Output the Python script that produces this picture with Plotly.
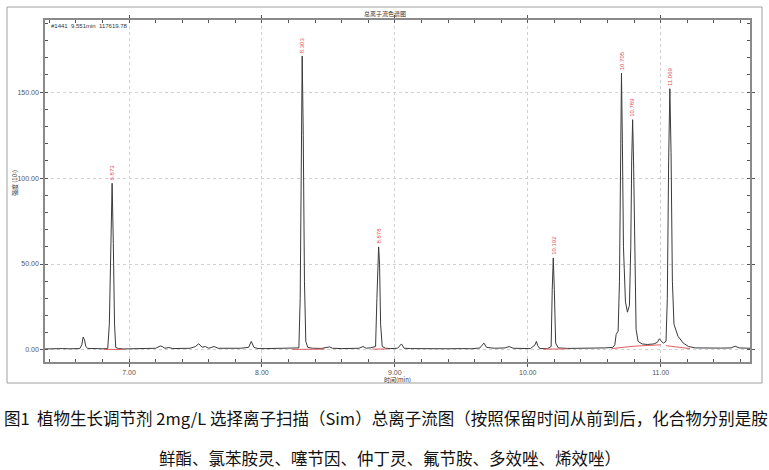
import plotly.graph_objects as go

# retention time (min) and intensity
rt = [
    6.368, 6.40, 6.45, 6.50, 6.55, 6.60, 6.63, 6.645, 6.655, 6.665, 6.675, 6.69,
    6.72, 6.76, 6.80, 6.84, 6.852, 6.862, 6.873, 6.882, 6.891, 6.90, 6.92, 6.96,
    7.00, 7.05, 7.10, 7.15, 7.20, 7.235, 7.25, 7.27, 7.30, 7.33, 7.40, 7.46,
    7.50, 7.525, 7.55, 7.575, 7.60, 7.64, 7.67, 7.72, 7.78, 7.84, 7.90, 7.92,
    7.94, 7.97, 8.03, 8.10, 8.17, 8.24, 8.278, 8.288, 8.296, 8.303, 8.311, 8.32,
    8.33, 8.345, 8.38, 8.45, 8.51, 8.53, 8.60, 8.67, 8.73, 8.76, 8.785, 8.82,
    8.855, 8.865, 8.872, 8.878, 8.885, 8.893, 8.905, 8.93, 8.97, 9.02, 9.05, 9.07,
    9.12, 9.20, 9.30, 9.40, 9.50, 9.58, 9.64, 9.67, 9.69, 9.75, 9.83, 9.86,
    9.89, 9.95, 10.02, 10.055, 10.065, 10.075, 10.09, 10.15, 10.176, 10.184, 10.192, 10.20,
    10.21, 10.23, 10.30, 10.40, 10.50, 10.58, 10.64, 10.655, 10.665, 10.68, 10.69, 10.698,
    10.705, 10.712, 10.72, 10.735, 10.75, 10.765, 10.775, 10.782, 10.789, 10.796, 10.805, 10.815,
    10.83, 10.86, 10.90, 10.95, 10.975, 10.99, 11.00, 11.02, 11.04, 11.05, 11.06, 11.069,
    11.078, 11.088, 11.10, 11.13, 11.17, 11.21, 11.26, 11.35, 11.45, 11.53, 11.56, 11.59,
    11.63, 11.672,
]
signal = [
    0.6, 0.7, 0.6, 0.8, 0.7, 0.6, 0.8, 3.0, 7.5, 6.0, 2.0, 0.9,
    0.7, 0.8, 0.7, 0.8, 15, 60, 97, 62, 15, 1.5, 0.8, 0.6,
    0.7, 0.6, 0.8, 0.7, 1.0, 2.3, 2.0, 1.0, 1.4, 0.8, 0.9, 1.0,
    2.0, 3.6, 1.6, 2.0, 1.0, 2.0, 1.0, 0.9, 0.8, 1.0, 1.5, 5.0,
    1.5, 0.8, 0.8, 0.9, 0.8, 1.0, 1.2, 30, 120, 171, 125, 40,
    5.0, 1.5, 1.0, 0.9, 1.8, 1.0, 0.8, 0.8, 1.0, 2.0, 1.0, 1.3,
    2.0, 30, 55, 60, 50, 15, 2.0, 1.0, 0.8, 1.0, 3.5, 1.0,
    0.8, 0.7, 0.8, 0.7, 0.8, 0.7, 1.2, 4.0, 1.5, 1.0, 1.2, 2.0,
    1.0, 0.8, 0.8, 3.0, 5.0, 2.5, 0.8, 0.8, 2.0, 35, 53.5, 35,
    4.0, 1.2, 0.9, 1.0, 1.0, 1.2, 1.5, 3.0, 9.0, 11, 40, 120,
    161, 120, 60, 28, 22, 26, 60, 110, 134, 110, 50, 12,
    5.0, 3.5, 3.2, 3.5, 4.5, 6.5, 5.5, 4.0, 5.0, 30, 110, 152,
    115, 40, 15, 8.0, 4.0, 2.0, 1.2, 1.0, 1.1, 1.2, 2.2, 1.2,
    1.0, 1.0,
]

# integration baselines (red), segments split by None
base_rt = [6.81, 6.96, None, 8.23, 8.47, None, 8.83, 8.94, None,
           10.12, 10.29, None, 10.63, 10.73, 10.80, 11.00, None, 11.04, 11.22]
base_sig = [0.3, 0.3, None, 0.3, 0.5, None, 0.5, 0.6, None,
            0.5, 0.6, None, 0.8, 1.5, 2.2, 3.0, None, 2.5, 0.8]

# labelled peaks
peak_rt = [6.873, 8.303, 8.878, 10.192, 10.705, 10.789, 11.069]
peak_top = [97, 171, 60, 53.5, 161, 134, 152]
peak_label = ["6.873", "8.303", "8.878", "10.192", "10.705", "10.789", "11.069"]

x_range = [6.368, 11.672]
y_range = [-7, 192]
x_ticks = [7, 8, 9, 10, 11]
y_ticks = [0, 50, 100, 150]

# plot area in pixels: left 45, right 750, top 20, bottom 362
L, R, T, B = 45, 750, 20, 362
W, H = R - L, B - T


def px(x):
    return (x - L) / W


def py(y):
    return (B - y) / H


fig = go.Figure()
fig.add_trace(go.Scatter(x=rt, y=signal, mode="lines",
                         line=dict(color="#3a3a3a", width=1), hoverinfo="skip"))
fig.add_trace(go.Scatter(x=base_rt, y=base_sig, mode="lines",
                         line=dict(color="#e06060", width=1), hoverinfo="skip"))

for x, y, t in zip(peak_rt, peak_top, peak_label):
    fig.add_annotation(x=x, y=y, text=t, showarrow=False, textangle=-90,
                       xanchor="center", yanchor="bottom", yshift=1,
                       font=dict(size=6, color="#e05050", family="Liberation Sans"))

axis_common = dict(
    showline=True, linecolor="#8a8a8a", linewidth=1.5, mirror="allticks",
    showgrid=True, gridcolor="#d0d0d0", griddash="dot", gridwidth=1,
    zeroline=False, tickcolor="#555", ticklen=3, ticks="outside",
    tickfont=dict(size=7, color="#555555", family="Liberation Sans"),
    tickformat=".2f", automargin=False,
)

fig.update_layout(
    width=769, height=470,
    paper_bgcolor="white", plot_bgcolor="white",
    showlegend=False,
    margin=dict(l=L, r=769 - R, t=T, b=470 - B, autoexpand=False),
    xaxis=dict(range=x_range, tickvals=x_ticks,
               minor=dict(dtick=0.2, ticks="inside", ticklen=3, tickcolor="#555"),
               **axis_common),
    yaxis=dict(range=y_range, tickvals=y_ticks,
               minor=dict(dtick=10, ticks="inside", ticklen=3, tickcolor="#555"),
               **axis_common),
    font=dict(family="Noto Sans CJK SC"),
)

# outer frame around chart
fig.add_shape(type="rect", xref="paper", yref="paper",
              x0=px(7), x1=px(762), y0=py(383), y1=py(7),
              line=dict(color="#a0a0a0", width=1))

small = dict(family="Noto Sans CJK SC", color="#333")
fig.add_annotation(xref="paper", yref="paper", x=px(49), y=py(26),
                   text="#1441  9.551min  117619.78", showarrow=False,
                   xanchor="left", yanchor="middle",
                   font=dict(size=6, family="Liberation Sans", color="#333"))
fig.add_annotation(xref="paper", yref="paper", x=px(385), y=py(14),
                   text="总离子流色谱图", showarrow=False, xanchor="center",
                   yanchor="middle", font=dict(size=6, **small))
fig.add_annotation(xref="paper", yref="paper", x=px(397), y=py(379),
                   text="时间(min)", showarrow=False, xanchor="center",
                   yanchor="middle", font=dict(size=6, **small))
fig.add_annotation(xref="paper", yref="paper", x=px(14), y=py(183),
                   text="强度 (10⁵)", showarrow=False, textangle=-90, xanchor="center",
                   yanchor="middle", font=dict(size=6, **small))

cap = dict(family="Noto Sans CJK SC", size=16.5, color="#111")
fig.add_annotation(xref="paper", yref="paper", x=px(386), y=py(418),
                   text="图1  植物生长调节剂 2mg/L 选择离子扫描（Sim）总离子流图（按照保留时间从前到后，化合物分别是胺",
                   showarrow=False, xanchor="center", yanchor="middle", font=cap)
fig.add_annotation(xref="paper", yref="paper", x=px(390), y=py(458),
                   text="鲜酯、氯苯胺灵、噻节因、仲丁灵、氟节胺、多效唑、烯效唑）",
                   showarrow=False, xanchor="center", yanchor="middle", font=cap)

# the page body has a default 8px margin; drop it so pixels line up
fig.write_html("out.html", config={"displayModeBar": False},
               post_script="document.body.style.margin='0';")
